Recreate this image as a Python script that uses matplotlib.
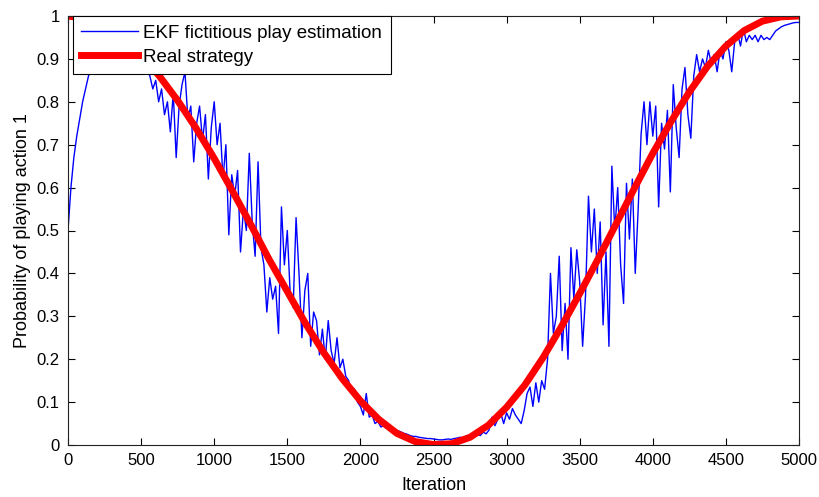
"""
EKF fictitious play estimation vs real strategy
"""

import numpy as np
import matplotlib
matplotlib.use("Agg")
import matplotlib.pyplot as plt

# ===================== 데이터 =====================
# 실제 전략 (125 iteration 간격, 그림에서 읽음)
real_iter = np.arange(0, 5001, 125)
real_prob = [1.000, 0.994, 0.976, 0.948, 0.909, 0.860, 0.803, 0.739, 0.668, 0.592,
             0.514, 0.433, 0.358, 0.283, 0.215, 0.155, 0.103, 0.060, 0.027, 0.008,
             0.001, 0.003, 0.018, 0.046, 0.088, 0.140, 0.204, 0.276, 0.353, 0.433,
             0.516, 0.599, 0.680, 0.754, 0.823, 0.883, 0.930, 0.966, 0.988, 0.998,
             1.000]

# EKF 추정값 (20 iteration 간격, 그림에서 읽음)
ekf_iter = np.arange(0, 5001, 20)
ekf_prob = [
    # 0 - 480
    0.50, 0.60, 0.67, 0.72, 0.76, 0.80, 0.83, 0.86, 0.88, 0.90, 0.915, 0.925, 0.935,
    0.94, 0.945, 0.95, 0.95, 0.955, 0.955, 0.95, 0.95, 0.945, 0.94, 0.93, 0.92,
    # 500 - 980
    0.91, 0.90, 0.88, 0.86, 0.83, 0.85, 0.80, 0.83, 0.77, 0.80, 0.73, 0.82, 0.67,
    0.79, 0.84, 0.87, 0.76, 0.79, 0.66, 0.75, 0.79, 0.71, 0.77, 0.62, 0.74,
    # 1000 - 1480
    0.80, 0.70, 0.75, 0.62, 0.70, 0.49, 0.63, 0.58, 0.64, 0.45, 0.55, 0.50, 0.68,
    0.52, 0.44, 0.66, 0.46, 0.42, 0.31, 0.39, 0.34, 0.37, 0.26, 0.555, 0.42,
    # 1500 - 1980
    0.50, 0.35, 0.32, 0.53, 0.40, 0.25, 0.36, 0.40, 0.23, 0.31, 0.29, 0.21, 0.27,
    0.20, 0.29, 0.22, 0.19, 0.25, 0.18, 0.20, 0.16, 0.15, 0.12, 0.13, 0.10,
    # 2000 - 2480
    0.09, 0.07, 0.12, 0.065, 0.07, 0.05, 0.055, 0.042, 0.045, 0.04, 0.04, 0.038, 0.035,
    0.033, 0.03, 0.027, 0.025, 0.022, 0.02, 0.02, 0.018, 0.017, 0.016, 0.015, 0.015,
    # 2500 - 2980
    0.014, 0.013, 0.012, 0.012, 0.013, 0.014, 0.013, 0.015, 0.016, 0.018, 0.017, 0.02, 0.018,
    0.022, 0.02, 0.025, 0.022, 0.03, 0.026, 0.035, 0.065, 0.045, 0.06, 0.075, 0.05,
    # 3000 - 3480
    0.075, 0.06, 0.085, 0.07, 0.06, 0.05, 0.08, 0.12, 0.135, 0.09, 0.145, 0.10, 0.15,
    0.13, 0.20, 0.40, 0.26, 0.30, 0.44, 0.22, 0.33, 0.20, 0.46, 0.34, 0.455,
    # 3500 - 3980
    0.38, 0.23, 0.35, 0.58, 0.45, 0.55, 0.40, 0.52, 0.28, 0.45, 0.23, 0.65, 0.50,
    0.60, 0.42, 0.33, 0.61, 0.48, 0.62, 0.40, 0.55, 0.725, 0.80, 0.70, 0.80,
    # 4000 - 4480
    0.72, 0.79, 0.555, 0.75, 0.69, 0.78, 0.59, 0.84, 0.74, 0.67, 0.83, 0.88, 0.77,
    0.715, 0.86, 0.91, 0.87, 0.90, 0.88, 0.92, 0.89, 0.91, 0.87, 0.92, 0.90,
    # 4500 - 5000
    0.94, 0.92, 0.87, 0.94, 0.96, 0.93, 0.97, 0.94, 0.955, 0.945, 0.955, 0.94, 0.955,
    0.945, 0.95, 0.945, 0.955, 0.965, 0.97, 0.975, 0.978, 0.98, 0.982, 0.984, 0.985,
    0.985,
]

x_ticks = np.arange(0, 5001, 500)
y_ticks = np.round(np.arange(0, 1.01, 0.1), 1)
y_tick_labels = ["0", "0.1", "0.2", "0.3", "0.4", "0.5", "0.6", "0.7", "0.8", "0.9", "1"]

# ===================== 그림 =====================
plt.rcParams["font.family"] = ["Liberation Sans", "DejaVu Sans"]

fig = plt.figure(figsize=(8.19, 4.97), dpi=100)
ax = fig.add_axes([68 / 819, 52 / 497, 731 / 819, 429 / 497])

ax.plot(ekf_iter, ekf_prob, color=(0, 0, 1), linewidth=1.0, label="EKF fictitious play estimation")
ax.plot(real_iter, real_prob, color=(1, 0, 0), linewidth=5, label="Real strategy")

ax.set_xlim(0, 5000)
ax.set_ylim(0, 1)
ax.set_xticks(x_ticks)
ax.set_yticks(y_ticks)
ax.set_yticklabels(y_tick_labels)
ax.tick_params(direction="in", top=True, right=True, length=5, width=0.8, labelsize=12, pad=6)
for s in ax.spines.values():
    s.set_linewidth(0.8)
    s.set_color("#222222")

ax.set_xlabel("Iteration", fontsize=13, labelpad=6)
ax.set_ylabel("Probability of playing action 1", fontsize=13, labelpad=4)

leg = ax.legend(loc="upper left", bbox_to_anchor=(5 / 731, 1.0), borderaxespad=0,
                fontsize=13.5, handlelength=3.0, handletextpad=0.3, frameon=True, fancybox=False,
                framealpha=1, edgecolor="black", borderpad=0.45, labelspacing=0.38)
leg.get_frame().set_linewidth(0.8)

plt.savefig("out.png", dpi=100)
